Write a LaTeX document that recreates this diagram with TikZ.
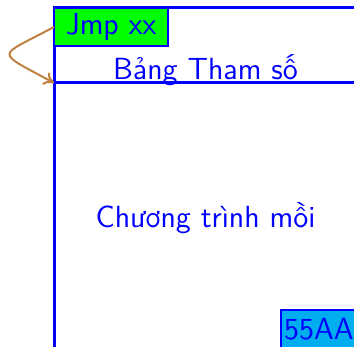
\documentclass[tikz,border=0pt]{standalone}
\usepackage{fontspec}
\usetikzlibrary{arrows.meta}
\definecolor{bootcyan}{RGB}{0,174,239}
\definecolor{arrowbrown}{RGB}{191,128,64}
\begin{document}
\begin{tikzpicture}[x=0.5pt,y=-0.5pt,
  font=\sffamily\fontsize{15.3}{18}\selectfont,
  region/.style={draw=blue, line width=1.5pt, rectangle, inner sep=0pt, outer sep=0pt},
  tag/.style={draw=blue, line width=1pt, rectangle, inner sep=0pt, outer sep=0pt, text=blue},
  label/.style={text=blue, inner sep=0pt},
  link/.style={draw=arrowbrown, line width=1pt, -{To[length=5pt,width=7pt]}}]
\useasboundingbox (0,0) rectangle (354,347);
\clip (0,0) rectangle (354,347);
% boot sector outline
\node[region, minimum width=151.5pt, minimum height=200pt] (rom) at (205.5,208) {};
% parameter table
\node[region, minimum width=151.5pt, minimum height=37.5pt] (param) at (205.5,45.5) {};
% jump instruction
\node[tag, fill=green, minimum width=57pt, minimum height=19pt] (jmp) at (111,27) {Jmp xx};
% signature
\node[tag, fill=bootcyan, minimum width=38pt, minimum height=19pt] (sig) at (319,329) {55AA};
% texts
\node[label, anchor=base] (ptext) at (205.5,80) {Bảng Tham số};
\node[label, anchor=base] (btext) at (205.5,228) {Chương trình mồi};
% jump arrow
\draw[link] (jmp.west) .. controls (-4,58) and (-6,50) .. (param.south west);
\end{tikzpicture}
\end{document}
